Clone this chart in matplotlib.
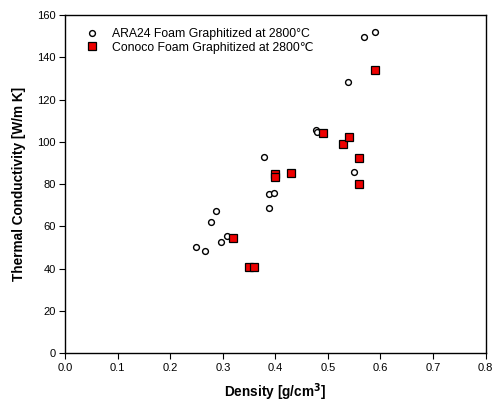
import matplotlib
matplotlib.use('Agg')
import matplotlib.pyplot as plt

plt.rcParams['font.family'] = ['Liberation Sans', 'DejaVu Sans']

# ARA24 foam graphitized at 2800 C
ara_density = [0.249, 0.266, 0.277, 0.287, 0.297, 0.307, 0.378, 0.388, 0.388, 0.398,
               0.477, 0.479, 0.538, 0.549, 0.569, 0.589]
ara_k = [50.3, 48.4, 62.1, 67.1, 52.8, 55.3, 92.8, 68.6, 75.2, 75.8,
         105.4, 104.6, 128.5, 85.7, 149.5, 151.8]

# Conoco foam graphitized at 2800 C
con_density = [0.320, 0.350, 0.360, 0.400, 0.400, 0.430, 0.490, 0.529, 0.540, 0.560, 0.560, 0.590]
con_k = [54.7, 40.7, 40.7, 84.9, 83.4, 85.1, 104.1, 99.0, 102.1, 92.2, 80.1, 134.2]

fig = plt.figure(figsize=(4.98, 4.04), dpi=100)
ax = fig.add_axes([0.131, 0.1255, 0.844, 0.8375])

ax.plot(ara_density, ara_k, 'o', ms=4.2, mfc='white', mec='black', mew=1.0,
        label='ARA24 Foam Graphitized at 2800°C')
ax.plot(con_density, con_k, 's', ms=5.2, mfc='#ee0000', mec='black', mew=0.9,
        label='Conoco Foam Graphitized at 2800\u2103')

ax.set_xlim(0, 0.8)
ax.set_ylim(0, 160)
ax.set_xticks([0.0, 0.1, 0.2, 0.3, 0.4, 0.5, 0.6, 0.7, 0.8])
ax.set_yticks(range(0, 161, 20))
ax.tick_params(direction='out', length=4, width=0.8, labelsize=8, pad=3)
for s in ax.spines.values():
    s.set_linewidth(1.0)

ax.set_xlabel('Density [g/cm$^\\mathbf{3}$]', fontsize=9.8, fontweight='bold', labelpad=6)
ax.set_ylabel('Thermal Conductivity [W/m K]', fontsize=9.8, fontweight='bold', labelpad=8)

ax.legend(loc='upper left', frameon=False, fontsize=8.8, handletextpad=0.64,
          borderaxespad=0, borderpad=0, labelspacing=0.1,
          bbox_to_anchor=(0.0345, 0.96))

fig.savefig('out.png', dpi=100)
